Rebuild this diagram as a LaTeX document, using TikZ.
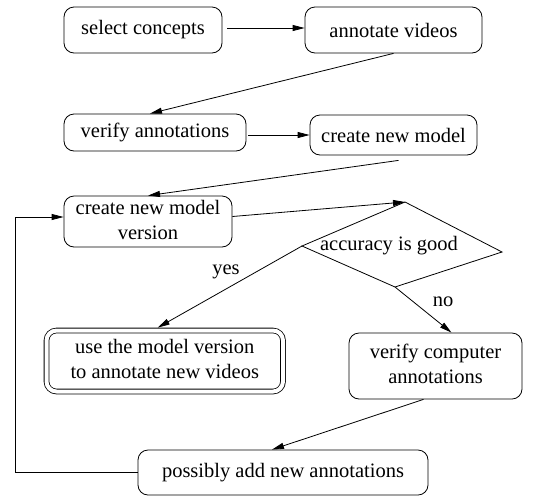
\documentclass[tikz,border=0pt]{standalone}
\usepackage{fontspec}
\setmainfont{Liberation Serif}
\usetikzlibrary{arrows.meta,calc}
\newcommand{\twolines}[2]{\begin{tabular}{@{}c@{}}#1\\#2\end{tabular}}
\begin{document}
\begin{tikzpicture}[x=1pt,y=-1pt,
  every node/.style={font=\fontsize{20.5}{25}\selectfont},
  box/.style={draw, rounded corners=10pt, inner sep=0pt, line width=0.8pt},
  flow/.style={-{Triangle[length=12pt,width=6pt]}, line width=0.8pt},
  lbl/.style={inner sep=0pt}]
\useasboundingbox (0,0) rectangle (540,496);

% process steps
\node[box, minimum width=158pt, minimum height=46pt] (sel) at (143,30) {select concepts\hspace{14pt}};
\node[box, minimum width=177pt, minimum height=46pt] (ann) at (393.5,30) {annotate videos\hspace{8pt}};
\node[box, minimum width=182pt, minimum height=37pt] (ver) at (155,132.5) {verify annotations\hspace{22pt}};
\node[box, minimum width=167pt, minimum height=40pt] (cnm) at (393.5,135) {create new model};
\node[box, minimum width=168pt, minimum height=51pt] (cnmv) at (148,221.5) {\twolines{create new model}{version}};
\node[box, double, double distance=4pt, rounded corners=10pt, minimum width=236.5pt, minimum height=61pt] (use) at (164.75,361) {\twolines{use the model version}{to annotate new videos}\hspace{10pt}};
\node[box, minimum width=173pt, minimum height=66pt] (vca) at (435.5,366) {\twolines{verify computer}{annotations}};
\node[box, minimum width=290pt, minimum height=45pt] (pos) at (283,472.5) {possibly add new annotations\hspace{16pt}};

% decision
\coordinate (dt) at (405,202);
\coordinate (dr) at (502,252);
\coordinate (db) at (395,287);
\coordinate (dl) at (302,246);
\draw[line width=0.8pt] (dt) -- (dr) -- (db) -- (dl) -- cycle;
\node[lbl] (acc) at (389,246) {accuracy is good};

% connectors
\draw[flow] ($(sel.east)+(5,-2)$) -- ($(ann.west)+(0,-2)$);
\draw[flow] (ann.south) -- ($(ver.north)+(-5,0)$);
\draw[flow] ($(ver.east)+(2,2.5)$) -- (cnm.west);
\draw[flow] ($(cnm.south)+(5,5)$) -- (cnmv.north);
\draw[flow] ($(cnmv.east)+(0,-5)$) -- (dt);
\draw[flow] (dl) -- ($(use.north)+(-7,-2.5)$);
\draw[flow] (db) -- ($(vca.north)+(16,0)$);
\draw[flow] (vca.south) ++(-12,0) -- ($(pos.north)+(-11,0)$);
\draw[flow] (pos.west) -| (15,217) -- ($(cnmv.west)+(0,-4.5)$);

% branch labels
\node[lbl] (yes) at (226,272) {yes};
\node[lbl] (no) at (443,302) {no};
\end{tikzpicture}
\end{document}
